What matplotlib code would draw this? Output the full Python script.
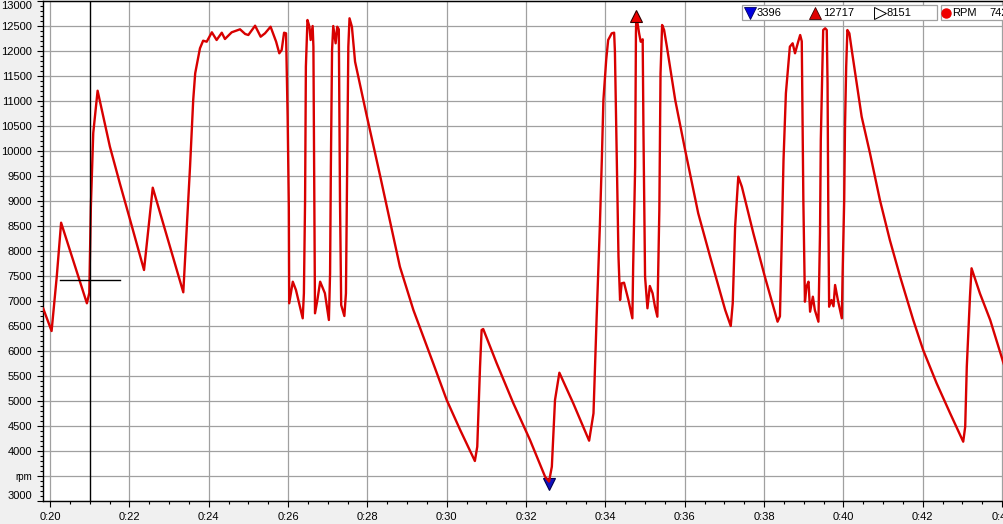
import matplotlib
matplotlib.use("Agg")
import matplotlib.pyplot as plt
from matplotlib.ticker import MultipleLocator, FuncFormatter
from matplotlib.patches import Rectangle
from matplotlib.lines import Line2D

# ---- data (time in seconds, engine rpm) ----
time_s = [19.83, 20.04, 20.17, 20.28, 20.93, 20.99, 21.03, 21.09, 21.20, 21.51,
          21.76, 22.02, 22.37, 22.59, 23.28, 23.36, 23.53, 23.61, 23.66, 23.78,
          23.86, 23.95, 24.08, 24.20, 24.33, 24.41, 24.58, 24.79, 24.92, 25.00,
          25.17, 25.31, 25.42, 25.56, 25.70, 25.78, 25.84, 25.90, 25.95, 25.97,
          25.99, 26.02, 26.03, 26.12, 26.20, 26.37, 26.40, 26.43, 26.45, 26.49,
          26.54, 26.57, 26.62, 26.64, 26.66, 26.68, 26.74, 26.81, 26.93, 27.03,
          27.06, 27.08, 27.11, 27.14, 27.20, 27.24, 27.28, 27.31, 27.34, 27.42,
          27.46, 27.49, 27.52, 27.55, 27.61, 27.69, 27.98, 28.32, 28.82, 29.16,
          29.66, 30.00, 30.34, 30.71, 30.77, 30.84, 30.88, 30.92, 31.26, 31.68,
          32.10, 32.48, 32.58, 32.65, 32.73, 32.84, 33.19, 33.59, 33.70, 33.78,
          33.86, 33.91, 33.95, 34.02, 34.07, 34.16, 34.22, 34.24, 34.29, 34.33,
          34.37, 34.41, 34.47, 34.58, 34.68, 34.70, 34.75, 34.77, 34.78, 34.85,
          34.89, 34.94, 34.96, 35.00, 35.06, 35.12, 35.19, 35.25, 35.31, 35.36,
          35.39, 35.43, 35.48, 35.55, 35.76, 36.01, 36.34, 36.64, 37.02, 37.16,
          37.21, 37.27, 37.35, 37.44, 37.73, 38.02, 38.34, 38.40, 38.44, 38.49,
          38.55, 38.65, 38.72, 38.78, 38.86, 38.91, 38.95, 38.97, 38.99, 39.01,
          39.03, 39.07, 39.12, 39.16, 39.23, 39.28, 39.37, 39.41, 39.43, 39.47,
          39.49, 39.54, 39.58, 39.60, 39.62, 39.64, 39.70, 39.75, 39.79, 39.86,
          39.96, 39.98, 40.02, 40.04, 40.07, 40.10, 40.15, 40.21, 40.46, 40.67,
          40.92, 41.17, 41.43, 41.76, 42.01, 42.35, 42.69, 43.02, 43.07, 43.11,
          43.19, 43.23, 43.44, 43.70, 44.05]
rpm = [6854, 6406, 7492, 8572, 6960, 7166, 8892, 10366, 11212, 10092,
       9360, 8626, 7626, 9272, 7392, 7180, 9692, 11026, 11560, 12060,
       12212, 12192, 12380, 12226, 12372, 12246, 12380, 12440, 12346, 12326,
       12512, 12292, 12360, 12492, 12192, 11960, 12026, 12372, 12360, 11492,
       10692, 8892, 6960, 7392, 7226, 6660, 7160, 9026, 11692, 12626,
       12492, 12226, 12506, 12092, 9292, 6760, 7026, 7392, 7160, 6626,
       7560, 9692, 12026, 12506, 12160, 12492, 12440, 9026, 6926, 6706,
       7160, 9692, 12092, 12660, 12492, 11792, 10726, 9516, 7692, 6826,
       5760, 5026, 4426, 3806, 4092, 5692, 6426, 6446, 5760, 4960,
       4226, 3492, 3396, 3692, 5026, 5572, 4960, 4212, 4760, 6692,
       8492, 9826, 11026, 11826, 12226, 12360, 12372, 12000, 9692, 7892,
       7026, 7360, 7372, 7026, 6660, 7692, 9692, 12360, 12717, 12360,
       12192, 12240, 10366, 7492, 6860, 7306, 7160, 6892, 6692, 8826,
       11560, 12526, 12426, 12092, 11026, 10026, 8760, 7892, 6826, 6506,
       6960, 8492, 9492, 9292, 8360, 7492, 6592, 6700, 8026, 9826,
       11160, 12092, 12160, 11960, 12192, 12326, 12200, 10560, 9026, 8026,
       6992, 7292, 7392, 6792, 7092, 6826, 6592, 8360, 10226, 11760,
       12426, 12460, 12426, 11360, 8692, 6892, 7026, 6900, 7326, 7026,
       6660, 7560, 9026, 10492, 11692, 12426, 12360, 12026, 10692, 9960,
       9026, 8226, 7492, 6626, 6026, 5360, 4760, 4192, 4492, 5692,
       7092, 7660, 7160, 6626, 5726]

min_point = (32.58, 3396)
max_point = (34.78, 12717)
average_rpm = 8151
cursor_time = 21.01
cursor_rpm = 7426
cursor_span = (20.25, 21.76)

y_ticks = [3000, 3500, 4000, 4500, 5000, 5500, 6000, 6500, 7000, 7500, 8000,
           8500, 9000, 9500, 10000, 10500, 11000, 11500, 12000, 12500, 13000]
y_tick_labels = ["3000", "rpm", "4000", "4500", "5000", "5500", "6000", "6500",
                 "7000", "7500", "8000", "8500", "9000", "9500", "10000", "10500",
                 "11000", "11500", "12000", "12500", "13000"]
legend_values = ["3396", "12717", "8151"]
channel_name = "RPM"
channel_value = "7426"

FONT = "Liberation Sans"
W, H = 1004, 524
fig = plt.figure(figsize=(W / 100, H / 100), dpi=100, facecolor="#f0f0f0")
ax = fig.add_axes([43 / W, (H - 501.3) / H, (W - 43) / W, 500 / H])
ax.set_facecolor("white")

ax.plot(time_s, rpm, color="#d80000", lw=1.7, zorder=4, solid_joinstyle="round")

# min / max markers
ax.plot([min_point[0]], [min_point[1] - 60], marker="v", ms=9, color="#1010c0",
        mec="#000050", mew=0.8, zorder=3, clip_on=False)
ax.plot([max_point[0]], [max_point[1] - 20], marker="^", ms=9, color="#ee0000",
        mec="#300000", mew=0.8, zorder=5, clip_on=False)

# cursor
ax.axvline(cursor_time, color="black", lw=1.0, zorder=5)
ax.plot(cursor_span, [cursor_rpm, cursor_rpm], color="black", lw=1.0, zorder=5)

ax.set_xlim(19.8235, 44.048)
ax.set_ylim(3000, 13000)

ax.xaxis.set_major_locator(MultipleLocator(2))
ax.xaxis.set_minor_locator(MultipleLocator(0.5))
ax.xaxis.set_major_formatter(FuncFormatter(lambda v, p: f"{int(v // 60)}:{int(round(v % 60)):02d}"))
ax.set_yticks(y_ticks)
ax.set_yticklabels(y_tick_labels)
ax.yaxis.set_minor_locator(MultipleLocator(100))

ax.grid(True, which="major", color="#a0a0a0", lw=0.9, zorder=0)
ax.set_axisbelow(True)

ax.tick_params(axis="both", which="major", direction="out", length=4, width=0.8,
               color="black", labelsize=8, labelcolor="black")
ax.tick_params(axis="both", which="minor", direction="out", length=2, width=0.8, color="black")
ax.tick_params(axis="y", pad=4)
ax.tick_params(axis="x", pad=4)
for lab in ax.get_xticklabels() + ax.get_yticklabels():
    lab.set_fontfamily(FONT)
ylabs = ax.get_yticklabels()
ylabs[0].set_verticalalignment("bottom")
ylabs[1].set_fontsize(7)
ylabs[-1].set_verticalalignment("top")

for s in ["left", "bottom", "top"]:
    ax.spines[s].set_color("black")
    ax.spines[s].set_linewidth(1.0)
ax.spines["right"].set_visible(False)

# legend-like info boxes (pixel coordinates)
def px(x, y):
    return x / W, 1 - y / H

def box(x0, x1, y0, y1):
    fx0, fy1 = px(x0, y0)
    fx1, fy0 = px(x1, y1)
    fig.patches.append(Rectangle((fx0, fy0), fx1 - fx0, fy1 - fy0, transform=fig.transFigure,
                                 facecolor="white", edgecolor="#a0a0a0", lw=0.9, zorder=10))

box(742, 937, 5, 20)
box(941, 1010, 5, 20)
ty = 13
fig.add_artist(Line2D([px(750, 0)[0]], [px(0, ty)[1]], marker="v", ms=9, color="#0000e0",
                      mec="#000060", mew=0.6, transform=fig.transFigure, zorder=11))
fig.text(*px(757, ty), legend_values[0], fontsize=8, family=FONT, va="center", ha="left", zorder=11)
fig.add_artist(Line2D([px(815, 0)[0]], [px(0, ty)[1]], marker="^", ms=9, color="#e00000",
                      mec="#400000", mew=0.6, transform=fig.transFigure, zorder=11))
fig.text(*px(823, ty), legend_values[1], fontsize=8, family=FONT, va="center", ha="left", zorder=11)
fig.add_artist(Line2D([px(880, 0)[0]], [px(0, ty)[1]], marker=">", ms=8, color="white",
                      mec="black", mew=0.7, transform=fig.transFigure, zorder=11))
fig.text(*px(887, ty), legend_values[2], fontsize=8, family=FONT, va="center", ha="left", zorder=11)
fig.add_artist(Line2D([px(946, 0)[0]], [px(0, ty)[1]], marker="o", ms=6.5, color="#ee0000",
                      mec="#ee0000", transform=fig.transFigure, zorder=11))
fig.text(*px(952, ty), channel_name, fontsize=8, family=FONT, va="center", ha="left", zorder=11)
fig.text(*px(989, ty), channel_value, fontsize=8, family=FONT, va="center", ha="left", zorder=11)

fig.savefig("out.png", dpi=100, facecolor=fig.get_facecolor())
